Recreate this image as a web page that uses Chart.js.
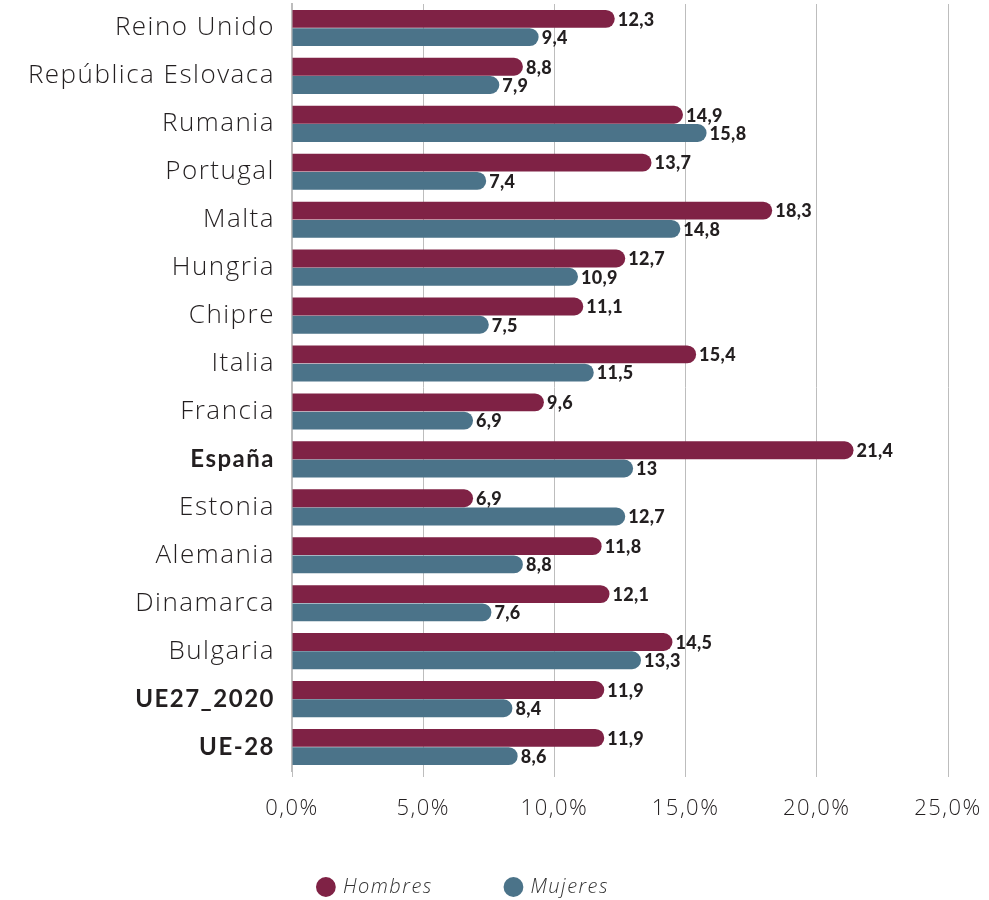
<!DOCTYPE html>
<html>
<head>
<meta charset="utf-8">
<script src="https://cdn.jsdelivr.net/npm/chart.js@4.4.0/dist/chart.umd.min.js"></script>
<style>
  html, body { margin: 0; padding: 0; background: #fff; }
  #wrap { width: 989px; height: 900px; position: relative; }
</style>
</head>
<body>
<div id="wrap"><canvas id="c" width="989" height="900"></canvas></div>
<script>
const categories = ["Reino Unido", "República Eslovaca", "Rumania", "Portugal", "Malta", "Hungria", "Chipre", "Italia", "Francia", "España", "Estonia", "Alemania", "Dinamarca", "Bulgaria", "UE27_2020", "UE-28"];
const boldCategories = ["España", "UE27_2020", "UE-28"];
const hombres = [12.3, 8.8, 14.9, 13.7, 18.3, 12.7, 11.1, 15.4, 9.6, 21.4, 6.9, 11.8, 12.1, 14.5, 11.9, 11.9];
const mujeres = [9.4, 7.9, 15.8, 7.4, 14.8, 10.9, 7.5, 11.5, 6.9, 13, 12.7, 8.8, 7.6, 13.3, 8.4, 8.6];
const seriesNames = ["Hombres", "Mujeres"];
const xTicks = [0, 5, 10, 15, 20, 25];

const colHombres = "#7f2245";
const colMujeres = "#4b7389";
const FONT = "'Open Sans', Lato, sans-serif";
const FONT_B = "Lato, 'Open Sans', sans-serif";
const SPACING = '1.5px';

const fmt = v => String(v).replace('.', ',');

const spacingPlugin = {
  id: 'spacing',
  beforeLayout(chart) { chart.ctx.letterSpacing = SPACING; },
  afterLayout(chart) {
    chart.ctx.letterSpacing = '0px';
    if (chart.legend) { chart.legend.top += 7; chart.legend.bottom += 7; }
  },
  beforeDraw(chart) { chart.ctx.letterSpacing = SPACING; },
  beforeDatasetsDraw(chart) { chart.ctx.letterSpacing = '0px'; }
};

const valueLabels = {
  id: 'valueLabels',
  afterDatasetsDraw(chart) {
    const ctx = chart.ctx;
    ctx.save();
    ctx.letterSpacing = '0.3px';
    ctx.font = "900 18px " + FONT_B;
    ctx.fillStyle = "#231f20";
    ctx.textAlign = "left";
    ctx.textBaseline = "middle";
    chart.data.datasets.forEach((ds, di) => {
      const meta = chart.getDatasetMeta(di);
      meta.data.forEach((bar, i) => {
        ctx.fillText(fmt(ds.data[i]), bar.x + 3, bar.y + 1);
      });
    });
    ctx.letterSpacing = '0px';
    ctx.restore();
  }
};

new Chart(document.getElementById('c'), {
  type: 'bar',
  data: {
    labels: categories,
    datasets: [
      { label: seriesNames[0], data: hombres, backgroundColor: colHombres, borderRadius: 10, borderSkipped: 'start', categoryPercentage: 0.76, barPercentage: 0.98 },
      { label: seriesNames[1], data: mujeres, backgroundColor: colMujeres, borderRadius: 10, borderSkipped: 'start', categoryPercentage: 0.76, barPercentage: 0.98 }
    ]
  },
  options: {
    indexAxis: 'y',
    responsive: false,
    animation: false,
    devicePixelRatio: 1,
    layout: { padding: { left: 0, right: 41, top: 4, bottom: 0 } },
    plugins: {
      legend: {
        position: 'bottom',
        labels: {
          usePointStyle: true,
          pointStyle: 'circle',
          boxWidth: 14,
          boxHeight: 14,
          padding: 0,
          color: '#333333',
          font: { family: FONT, size: 20, style: 'italic', weight: 300 },
          generateLabels(chart) {
            const items = Chart.defaults.plugins.legend.labels.generateLabels(chart);
            items.forEach((it, i) => {
              if (i === 0) it.text = it.text + '           ';
              else it.text = it.text + '   ';
            });
            return items;
          }
        }
      },
      tooltip: { enabled: false }
    },
    scales: {
      x: {
        min: 0, max: 25,
        afterBuildTicks(axis) { axis.ticks = xTicks.map(v => ({ value: v })); },
        ticks: {
          callback: v => v.toFixed(1).replace('.', ',') + '%',
          color: '#231f20',
          font: { family: FONT, size: 22, weight: 300 },
          padding: 19
        },
        grid: { color: '#bdbdbd', lineWidth: 1, drawTicks: true, tickLength: 6 },
        border: { display: false },
        afterFit(axis) { axis.height = 99; axis.paddingLeft = 0; axis.paddingRight = 0; }
      },
      y: {
        ticks: {
          color: '#231f20',
          padding: 9,
          font: ctx => {
            const lbl = categories[ctx.index];
            return boldCategories.includes(lbl)
              ? { family: FONT_B, size: 24, weight: 'bold' }
              : { family: FONT, size: 26, weight: 300 };
          }
        },
        grid: { display: false },
        border: { display: true, color: '#bdbdbd', width: 2 },
        afterFit(axis) { axis.width = 292; axis.paddingTop = 0; axis.paddingBottom = 0; }
      }
    }
  },
  plugins: [spacingPlugin, valueLabels]
});
</script>
</body>
</html>
